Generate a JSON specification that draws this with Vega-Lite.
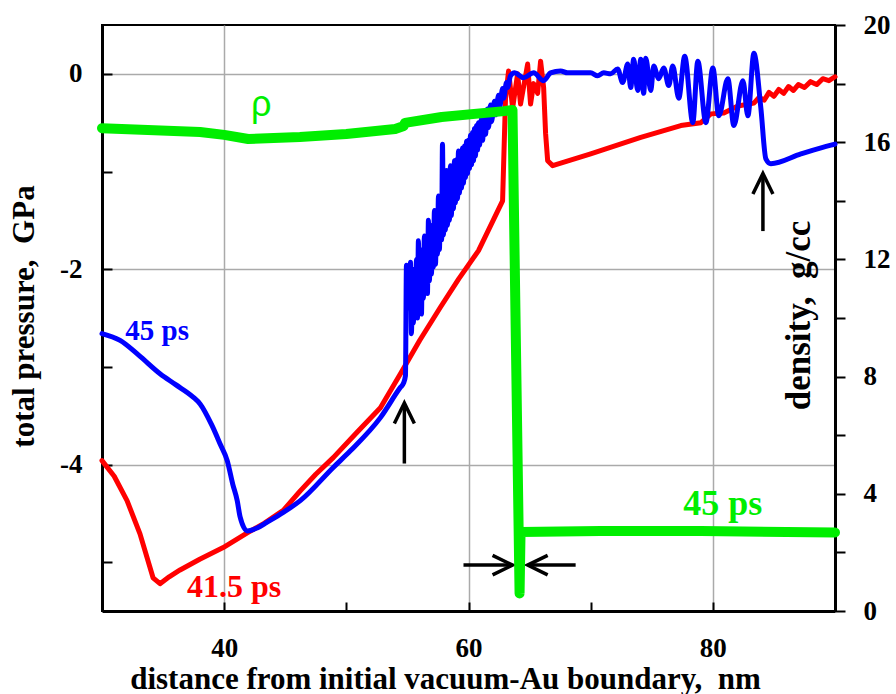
{
  "$schema": "https://vega.github.io/schema/vega-lite/v6.json",
  "width": 733,
  "height": 586,
  "autosize": "none",
  "padding": {"left": 102, "top": 25, "right": 61, "bottom": 83},
  "background": "white",
  "config": {
    "view": {"stroke": "black", "strokeWidth": 2},
    "font": "Liberation Serif",
    "axis": {
      "labelFont": "Liberation Serif", "labelFontWeight": "bold", "labelFontSize": 27, "labelColor": "black",
      "titleFont": "Liberation Serif", "titleFontWeight": "bold", "titleColor": "black",
      "domainColor": "black", "domainWidth": 3, "tickColor": "black", "tickWidth": 2, "gridWidth": 1.5
    }
  },
  "datasets": {
    "red": [
      {"x":30,"p":-3.96},{"x":31.0,"p":-4.12},{"x":32.05,"p":-4.37},{"x":33.11,"p":-4.71},{"x":34.18,"p":-5.16},{"x":34.75,"p":-5.22},{"x":35.5,"p":-5.15},{"x":36.39,"p":-5.08},{"x":38.0,"p":-4.97},{"x":39.92,"p":-4.85},{"x":41.89,"p":-4.70},{"x":43.3,"p":-4.60},{"x":44.84,"p":-4.47},{"x":46.23,"p":-4.27},{"x":47.5,"p":-4.10},{"x":48.93,"p":-3.93},{"x":50.8,"p":-3.68},{"x":52.79,"p":-3.42},{"x":54.43,"p":-3.07},{"x":56.0,"p":-2.73},{"x":57.70,"p":-2.39},{"x":59.2,"p":-2.10},{"x":60.82,"p":-1.81},{"x":62.79,"p":-1.30},{"x":63.03,"p":-0.25},{"x":63.28,"p":0.03},{"x":63.61,"p":-0.35},{"x":64.02,"p":0.00},{"x":64.26,"p":-0.31},{"x":64.84,"p":0.10},{"x":65.08,"p":-0.31},{"x":65.33,"p":-0.10},{"x":65.66,"p":-0.20},{"x":65.90,"p":0.13},{"x":66.15,"p":-0.14},{"x":66.31,"p":-0.61},{"x":66.48,"p":-0.89},{"x":66.89,"p":-0.94},{"x":70.0,"p":-0.82},{"x":74.1,"p":-0.65},{"x":77.38,"p":-0.53},{"x":79.02,"p":-0.50},{"x":79.84,"p":-0.41},{"x":80.9,"p":-0.40},{"x":82.05,"p":-0.33},{"x":83.36,"p":-0.30},{"x":83.8,"p":-0.24},{"x":84.2,"p":-0.27},{"x":84.6,"p":-0.19},{"x":85.0,"p":-0.23},{"x":85.4,"p":-0.16},{"x":85.8,"p":-0.20},{"x":86.2,"p":-0.13},{"x":86.6,"p":-0.17},{"x":87.0,"p":-0.11},{"x":87.5,"p":-0.14},{"x":88.0,"p":-0.08},{"x":88.5,"p":-0.11},{"x":89.0,"p":-0.05},{"x":89.5,"p":-0.07},{"x":90,"p":-0.03}
    ],
    "blue": [
      {"x":30,"p":-2.66},{"x":31.48,"p":-2.73},{"x":33.0,"p":-2.88},{"x":34.75,"p":-3.07},{"x":36.0,"p":-3.18},{"x":37.46,"p":-3.31},{"x":38.03,"p":-3.38},{"x":39.0,"p":-3.6},{"x":39.67,"p":-3.79},{"x":40.25,"p":-3.96},{"x":40.7,"p":-4.2},{"x":41.07,"p":-4.37},{"x":41.31,"p":-4.54},{"x":41.89,"p":-4.68},{"x":42.7,"p":-4.65},{"x":43.52,"p":-4.59},{"x":44.84,"p":-4.49},{"x":46.23,"p":-4.37},{"x":48.93,"p":-4.03},{"x":50.33,"p":-3.86},{"x":52.79,"p":-3.52},{"x":54.43,"p":-3.21},{"x":54.67,"p":-3.17},{"x":54.84,"p":-3.09},
      {"x":54.92,"p":-1.96},{"x":55.00,"p":-2.40},{"x":55.08,"p":-2.05},{"x":55.16,"p":-2.30},{"x":55.25,"p":-1.93},{"x":55.33,"p":-2.66},{"x":55.41,"p":-2.10},{"x":55.49,"p":-2.55},{"x":55.57,"p":-2.00},{"x":55.66,"p":-2.45},{"x":55.74,"p":-1.90},{"x":55.82,"p":-2.50},{"x":55.90,"p":-1.71},{"x":55.98,"p":-2.35},{"x":56.07,"p":-1.85},{"x":56.15,"p":-2.46},{"x":56.23,"p":-1.80},{"x":56.31,"p":-2.30},{"x":56.39,"p":-1.66},{"x":56.48,"p":-2.20},{"x":56.56,"p":-1.75},{"x":56.64,"p":-2.25},{"x":56.72,"p":-1.50},{"x":56.80,"p":-2.12},{"x":56.89,"p":-1.65},{"x":56.97,"p":-2.05},{"x":57.05,"p":-1.55},{"x":57.13,"p":-1.98},{"x":57.21,"p":-1.40},{"x":57.30,"p":-1.95},{"x":57.38,"p":-1.50},{"x":57.46,"p":-1.85},{"x":57.54,"p":-1.25},{"x":57.62,"p":-1.80},{"x":57.70,"p":-1.35},{"x":57.80,"p":-1.70},{"x":57.87,"p":-0.72},{"x":57.95,"p":-1.65},{"x":58.03,"p":-1.05},{"x":58.11,"p":-1.60},{"x":58.20,"p":-0.99},{"x":58.28,"p":-1.55},{"x":58.36,"p":-1.00},{"x":58.44,"p":-1.50},{"x":58.52,"p":-0.94},{"x":58.60,"p":-1.45},{"x":58.69,"p":-0.95},{"x":58.77,"p":-1.38},{"x":58.85,"p":-0.89},{"x":58.93,"p":-1.32},{"x":59.02,"p":-0.88},{"x":59.10,"p":-1.28},{"x":59.18,"p":-0.79},{"x":59.26,"p":-1.22},{"x":59.34,"p":-0.82},{"x":59.43,"p":-1.17},{"x":59.51,"p":-0.76},{"x":59.59,"p":-1.12},{"x":59.67,"p":-0.74},{"x":59.75,"p":-1.06},{"x":59.84,"p":-0.69},{"x":59.92,"p":-1.02},{"x":60.00,"p":-0.68},{"x":60.08,"p":-0.97},{"x":60.16,"p":-0.63},{"x":60.25,"p":-0.93},{"x":60.33,"p":-0.60},{"x":60.41,"p":-0.89},{"x":60.49,"p":-0.56},{"x":60.57,"p":-0.84},{"x":60.66,"p":-0.53},{"x":60.74,"p":-0.78},{"x":60.82,"p":-0.50},{"x":60.90,"p":-0.73},{"x":61.07,"p":-0.46},{"x":61.15,"p":-0.68},{"x":61.31,"p":-0.41},{"x":61.39,"p":-0.62},{"x":61.56,"p":-0.36},{"x":61.64,"p":-0.55},{"x":61.80,"p":-0.32},{"x":61.88,"p":-0.49},{"x":62.13,"p":-0.28},{"x":62.21,"p":-0.42},{"x":62.46,"p":-0.22},{"x":62.54,"p":-0.35},{"x":62.79,"p":-0.15},{"x":62.87,"p":-0.25},{"x":63.11,"p":-0.09},{"x":63.20,"p":-0.14},{"x":63.44,"p":-0.02},{"x":63.77,"p":0.01},
      {"x":64.51,"p":-0.04},{"x":65.33,"p":0.01},{"x":66.15,"p":-0.07},{"x":66.72,"p":0.01},{"x":67.54,"p":0.03},{"x":68.11,"p":0.01},{"x":70.00,"p":0.01},{"x":70.57,"p":-0.02},{"x":71.07,"p":0.01},{"x":71.64,"p":0.00},{"x":72.21,"p":0.05},{"x":72.62,"p":-0.09},{"x":73.03,"p":0.10},{"x":73.28,"p":-0.14},{"x":73.52,"p":0.15},{"x":73.85,"p":-0.17},{"x":74.10,"p":0.15},{"x":74.34,"p":-0.20},{"x":74.51,"p":0.16},{"x":74.92,"p":-0.17},{"x":75.16,"p":0.08},{"x":75.57,"p":-0.05},{"x":75.98,"p":0.06},{"x":76.39,"p":-0.12},{"x":76.72,"p":0.08},{"x":77.21,"p":-0.25},{"x":77.70,"p":0.18},{"x":78.36,"p":-0.50},{"x":78.77,"p":0.13},{"x":79.43,"p":-0.50},{"x":80.00,"p":0.06},{"x":80.49,"p":-0.43},{"x":81.23,"p":-0.05},{"x":81.72,"p":-0.53},{"x":82.46,"p":-0.07},{"x":82.87,"p":-0.43},{"x":83.36,"p":0.21},{"x":83.93,"p":-0.35},{"x":84.34,"p":-0.87},{"x":84.75,"p":-0.92},{"x":87.21,"p":-0.82},{"x":89.67,"p":-0.73},{"x":90,"p":-0.72}
    ],
    "dens": [
      {"x":30,"d":16.48},{"x":38.03,"d":16.35},{"x":40.0,"d":16.25},{"x":41.97,"d":16.11},{"x":46.2,"d":16.18},{"x":50.0,"d":16.28},{"x":54.0,"d":16.45},{"x":54.7,"d":16.55},{"x":54.8,"d":16.66},{"x":57.8,"d":16.86},{"x":62.9,"d":17.06},{"x":63.6,"d":17.1},{"x":64.18,"d":0.6},{"x":64.26,"d":2.7},{"x":70.8,"d":2.73},{"x":79,"d":2.73},{"x":90,"d":2.68}
    ],
    "arrows": [
      {"seg":"a1","ord":0,"x":54.75,"p":-3.99},{"seg":"a1","ord":1,"x":54.75,"p":-3.40},
      {"seg":"a2","ord":0,"x":53.93,"p":-3.58},{"seg":"a2","ord":1,"x":54.75,"p":-3.37},{"seg":"a2","ord":2,"x":55.57,"p":-3.58},
      {"seg":"b1","ord":0,"x":84.10,"p":-1.61},{"seg":"b1","ord":1,"x":84.10,"p":-1.05},
      {"seg":"b2","ord":0,"x":83.28,"p":-1.23},{"seg":"b2","ord":1,"x":84.10,"p":-1.02},{"seg":"b2","ord":2,"x":84.92,"p":-1.23},
      {"seg":"c1","ord":0,"x":59.59,"p":-5.03},{"seg":"c1","ord":1,"x":63.45,"p":-5.03},
      {"seg":"c2","ord":0,"x":61.97,"p":-4.93},{"seg":"c2","ord":1,"x":63.61,"p":-5.03},{"seg":"c2","ord":2,"x":61.97,"p":-5.13},
      {"seg":"d1","ord":0,"x":68.77,"p":-5.03},{"seg":"d1","ord":1,"x":65.0,"p":-5.03},
      {"seg":"d2","ord":0,"x":66.48,"p":-4.93},{"seg":"d2","ord":1,"x":64.84,"p":-5.03},{"seg":"d2","ord":2,"x":66.48,"p":-5.13}
    ],
    "labels": [
      {"series":"blue","t":"45 ps","x":34.51,"p":-2.73},
      {"series":"red","t":"41.5 ps","x":40.82,"p":-5.36},
      {"series":"green","t":"45 ps","x":80.82,"p":-4.52},
      {"series":"rho","t":"ρ","x":43.03,"p":-0.43}
    ]
  },
  "encoding": {
    "x": {
      "field": "x", "type": "quantitative",
      "scale": {"domain": [30, 90], "nice": false, "zero": false},
      "axis": {
        "orient": "bottom", "values": [40, 50, 60, 70, 80],
        "labelExpr": "datum.value % 20 === 0 ? toString(datum.value) : ''",
        "labelFont": "Liberation Serif", "labelFontWeight": "bold", "labelFontSize": 27,
        "tickSize": -9, "labelPadding": 33,
        "grid": true,
        "gridColor": {"condition": {"test": "datum.value % 20 === 0", "value": "#aaaaaa"}, "value": "transparent"},
        "title": "distance from initial vacuum-Au boundary, \u00a0nm",
        "titleFont": "Liberation Serif", "titleFontWeight": "bold",
        "titleFontSize": 31, "titleX": 343, "titleY": 77, "titleAlign": "center", "titleBaseline": "alphabetic"
      }
    }
  },
  "layer": [
    {
      "encoding": {
        "y": {
          "field": "p", "type": "quantitative",
          "scale": {"domain": [-5.5, 0.5], "nice": false, "zero": false},
          "axis": {
            "orient": "left", "values": [-5, -4, -3, -2, -1, 0],
            "labelExpr": "datum.value % 2 === 0 ? toString(datum.value) : ''",
            "labelFont": "Liberation Serif", "labelFontWeight": "bold", "labelFontSize": 27,
            "tickSize": -10, "labelPadding": 30,
            "grid": true,
            "gridColor": {"condition": {"test": "datum.value % 2 === 0", "value": "#aaaaaa"}, "value": "transparent"},
            "title": "total pressure, \u00a0GPa",
            "titleFont": "Liberation Serif", "titleFontWeight": "bold",
            "titleFontSize": 31, "titleX": -69, "titleY": 291, "titleAngle": -90, "titleAlign": "center", "titleBaseline": "alphabetic"
          }
        }
      },
      "layer": [
        {"data": {"name": "red"}, "mark": {"type": "line", "color": "#ff0000", "strokeWidth": 5, "strokeJoin": "round", "strokeCap": "round"}},
        {"data": {"name": "blue"}, "mark": {"type": "line", "color": "#0000ff", "strokeWidth": 5, "strokeJoin": "round", "strokeCap": "round", "interpolate": "monotone"}},
        {"data": {"name": "arrows"}, "mark": {"type": "line", "color": "black", "strokeWidth": 3.5}, "encoding": {"detail": {"field": "seg"}, "order": {"field": "ord", "type": "quantitative"}}},
        {"data": {"name": "labels"}, "transform": [{"filter": "datum.series === 'blue'"}], "mark": {"type": "text", "color": "#0000ff", "font": "Liberation Serif", "fontWeight": "bold", "fontSize": 29, "align": "center", "baseline": "alphabetic"}, "encoding": {"text": {"field": "t"}}},
        {"data": {"name": "labels"}, "transform": [{"filter": "datum.series === 'red'"}], "mark": {"type": "text", "color": "#ff0000", "font": "Liberation Serif", "fontWeight": "bold", "fontSize": 32, "align": "center", "baseline": "alphabetic"}, "encoding": {"text": {"field": "t"}}},
        {"data": {"name": "labels"}, "transform": [{"filter": "datum.series === 'green'"}], "mark": {"type": "text", "color": "#00ee00", "font": "Liberation Serif", "fontWeight": "bold", "fontSize": 36, "align": "center", "baseline": "alphabetic"}, "encoding": {"text": {"field": "t"}}},
        {"data": {"name": "labels"}, "transform": [{"filter": "datum.series === 'rho'"}], "mark": {"type": "text", "color": "#00ee00", "font": "Liberation Sans", "fontSize": 36, "align": "center", "baseline": "alphabetic"}, "encoding": {"text": {"field": "t"}}}
      ]
    },
    {
      "data": {"name": "dens"},
      "mark": {"type": "line", "color": "#00ee00", "strokeWidth": 10, "strokeJoin": "round", "strokeCap": "round"},
      "encoding": {
        "y": {
          "field": "d", "type": "quantitative",
          "scale": {"domain": [0, 20], "nice": false, "zero": false},
          "axis": {
            "orient": "right", "values": [0, 2, 4, 6, 8, 10, 12, 14, 16, 18, 20],
            "labelExpr": "datum.value % 4 === 0 ? toString(datum.value) : ''",
            "labelFont": "Liberation Serif", "labelFontWeight": "bold", "labelFontSize": 27,
            "tickSize": 10, "labelPadding": 18, "labelAlign": "left", "grid": false,
            "title": "density, \u00a0g/cc",
            "titleFont": "Liberation Serif", "titleFontWeight": "bold",
            "titleFontSize": 35, "titleX": -26, "titleY": 290, "titleAngle": -90, "titleAlign": "center", "titleBaseline": "alphabetic"
          }
        }
      }
    }
  ],
  "resolve": {"scale": {"y": "independent"}}
}
